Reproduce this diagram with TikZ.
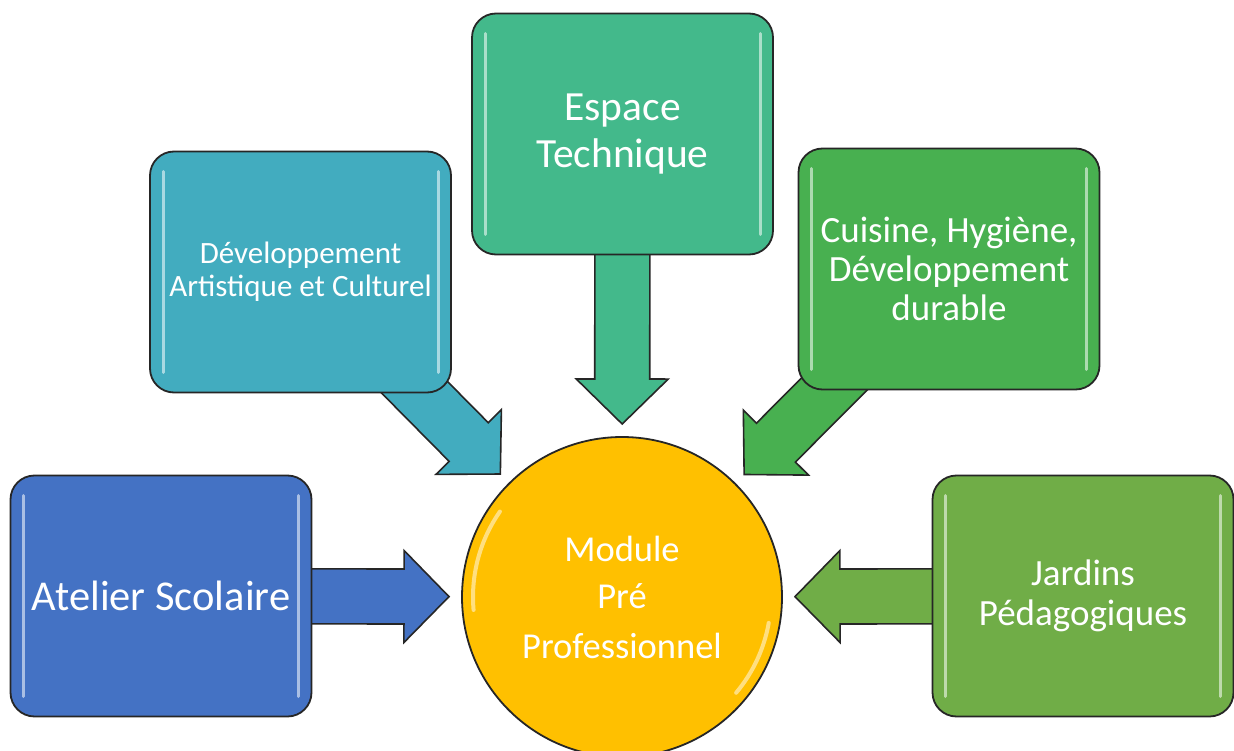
\documentclass[tikz,border=0pt]{standalone}
\usepackage{fontspec}
\setmainfont{Carlito}
\usetikzlibrary{calc}
\pgfdeclarelayer{bg}
\pgfsetlayers{bg,main}
\definecolor{cblue}{HTML}{4472C4}
\definecolor{cteal}{HTML}{42ACBF}
\definecolor{cmint}{HTML}{43B98B}
\definecolor{cgreen}{HTML}{48B050}
\definecolor{colive}{HTML}{70AD47}
\definecolor{cgold}{HTML}{FFC000}
\newcommand{\drawfatarrow}[3]{%
  \coordinate (fa-h) at ($(#3)!45pt!(#2)$);
  \draw[fatarrow, fill=#1] ($(#2)!27.5pt!90:(#3)$) -- ($(fa-h)!27.5pt!90:(#3)$) -- ($(fa-h)!46pt!90:(#3)$) -- (#3) -- ($(fa-h)!46pt!-90:(#3)$) -- ($(fa-h)!27.5pt!-90:(#3)$) -- ($(#2)!27.5pt!-90:(#3)$) -- cycle;
}
\tikzset{
  box/.style={draw=black!85, line width=1.8pt, rounded corners=24pt,
    minimum width=301pt, minimum height=241pt, text=white, align=center,
    inner sep=0pt, fill=#1,
    path picture={
      \draw[white, opacity=0.55, line width=3pt, line cap=round]
        ([xshift=13pt,yshift=-20pt]path picture bounding box.north west) --
        ([xshift=13pt,yshift=20pt]path picture bounding box.south west);
      \draw[white, opacity=0.55, line width=3pt, line cap=round]
        ([xshift=-13pt,yshift=-20pt]path picture bounding box.north east) --
        ([xshift=-13pt,yshift=20pt]path picture bounding box.south east);
    }},
  fatarrow/.style={draw=black!85, line width=1.6pt, line join=miter},
  hub/.style={circle, draw=black!85, line width=1.8pt, fill=cgold,
    minimum size=320pt, text=white, align=center, inner sep=0pt},
  gloss/.style={white, opacity=0.5, line width=4pt, line cap=round}
}
\begin{document}
\begin{tikzpicture}[x=1pt,y=-1pt]
\useasboundingbox (0,0) rectangle (1234,751);
\node[box=cblue, font=\fontsize{42.5}{49}\selectfont] (atelier) at (161,596) {Atelier Scolaire};
\node[box=cteal, font=\fontsize{31}{33}\selectfont] (devel) at (300.5,272) {Développement\\Artistique et Culturel};
\node[box=cmint, font=\fontsize{41.5}{47}\selectfont] (espace) at (622.5,134) {Espace\\Technique};
\node[box=cgreen, font=\fontsize{37}{39}\selectfont] (cuisine) at (949,269) {Cuisine, Hygiène,\\Développement\\durable};
\node[box=colive, font=\fontsize{37}{40}\selectfont] (jardins) at (1083,596) {Jardins\\Pédagogiques};
\node[hub, font=\fontsize{36.5}{47}\selectfont] (mod) at (622,597) {Module\\Pré\\[3pt]Professionnel};
\draw[gloss] ([shift={(145:149pt)}]mod.center) arc[start angle=145, end angle=185, radius=149pt];
\draw[gloss] ([shift={(-10:149pt)}]mod.center) arc[start angle=-10, end angle=-40, radius=149pt];
\coordinate (t-atelier) at ($(mod.center)!173pt!(atelier.center)$);
\coordinate (t-devel) at ($(mod.center)!173pt!(devel.center)$);
\coordinate (t-espace) at ($(mod.center)!173pt!(espace.center)$);
\coordinate (t-cuisine) at ($(mod.center)!173pt!(cuisine.center)$);
\coordinate (t-jardins) at ($(mod.center)!173pt!(jardins.center)$);
\begin{pgfonlayer}{bg}
\drawfatarrow{cblue}{atelier.center}{t-atelier}
\drawfatarrow{cteal}{devel.center}{t-devel}
\drawfatarrow{cmint}{espace.center}{t-espace}
\drawfatarrow{cgreen}{cuisine.center}{t-cuisine}
\drawfatarrow{colive}{jardins.center}{t-jardins}
\end{pgfonlayer}
\end{tikzpicture}
\end{document}
